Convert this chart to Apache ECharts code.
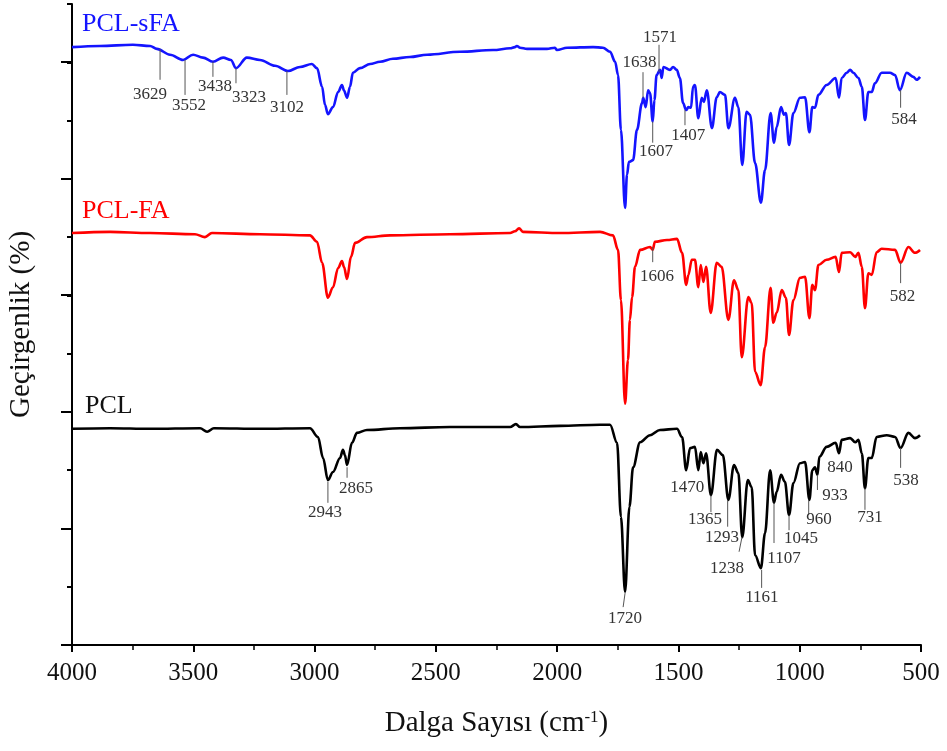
<!DOCTYPE html>
<html>
<head>
<meta charset="utf-8">
<script src="https://cdn.jsdelivr.net/npm/echarts@6/dist/echarts.min.js"></script>
<style>
  html, body { margin: 0; padding: 0; background: #fff; }
  #main { width: 947px; height: 751px; }
</style>
</head>
<body>
<div id="main"></div>
<script>
// FTIR spektrumları: [dalga sayısı (cm-1), geçirgenlik (ofsetli, keyfi birim)]
var pclSfa = [
  [4000, 102.6], [3885, 102.8], [3749, 103.0], [3678, 102.8], [3650, 102.3], [3596, 101.3],
  [3542, 100.4], [3501, 101.3], [3460, 100.8], [3419, 100.1], [3377, 100.8], [3345, 100.4],
  [3324, 99.0], [3279, 100.8], [3225, 100.4], [3163, 99.4], [3110, 98.5], [3060, 99.2],
  [3011, 99.7], [2990, 99.0], [2969, 95.8], [2957, 92.7], [2945, 91.1], [2924, 92.3],
  [2903, 94.9], [2887, 96.1], [2879, 95.2], [2866, 93.9], [2854, 95.8], [2842, 98.2],
  [2813, 99.0], [2771, 99.7], [2730, 100.1], [2677, 100.6], [2607, 100.9], [2536, 101.3],
  [2400, 101.8], [2264, 102.1], [2194, 102.4], [2174, 102.6], [2166, 102.8], [2153, 102.5],
  [2124, 102.3], [2042, 102.3], [2009, 102.5], [2001, 102.1], [1959, 102.5], [1852, 102.6],
  [1811, 102.5], [1782, 101.8], [1761, 100.1], [1749, 97.8], [1737, 88.4], [1720, 75.0],
  [1712, 80.7], [1704, 82.9], [1687, 83.2], [1671, 88.4], [1650, 93.0], [1645, 93.9],
  [1635, 92.3], [1625, 95.2], [1617, 94.7], [1606, 89.8], [1599, 93.5], [1590, 97.8],
  [1576, 98.7], [1569, 97.3], [1562, 99.2], [1535, 98.7], [1522, 99.2], [1507, 98.7],
  [1494, 97.3], [1481, 93.0], [1468, 91.8], [1459, 92.3], [1448, 92.2], [1440, 95.8],
  [1432, 96.1], [1418, 90.4], [1404, 93.9], [1395, 93.2], [1383, 95.2], [1362, 88.7],
  [1342, 94.0], [1329, 94.9], [1308, 94.4], [1294, 88.7], [1267, 93.9], [1253, 92.3],
  [1237, 82.4], [1219, 91.5], [1205, 91.0], [1184, 82.7], [1160, 75.9], [1143, 81.5],
  [1120, 91.3], [1106, 86.2], [1095, 88.9], [1077, 92.3], [1065, 91.0], [1057, 91.3],
  [1044, 85.8], [1026, 91.3], [999, 93.9], [978, 94.0], [960, 88.0], [948, 92.3],
  [937, 92.2], [923, 94.4], [889, 96.1], [852, 97.3], [838, 93.9], [827, 97.3],
  [806, 98.2], [792, 98.7], [779, 98.2], [758, 97.3], [744, 95.8], [731, 90.1],
  [717, 94.9], [703, 94.9], [690, 96.4], [662, 98.2], [628, 98.2], [607, 97.8],
  [587, 95.2], [559, 98.2], [532, 97.5], [518, 97.0], [504, 97.5]
];

var pclFa = [
  [4000, 70.7], [3843, 70.9], [3678, 70.7], [3493, 70.5], [3452, 70.0], [3423, 70.7],
  [3225, 70.5], [3019, 70.3], [2990, 69.2], [2969, 65.6], [2945, 59.6], [2924, 61.4],
  [2903, 64.7], [2887, 65.9], [2879, 64.9], [2866, 62.8], [2850, 66.6], [2833, 69.0],
  [2784, 70.0], [2689, 70.3], [2442, 70.5], [2194, 70.7], [2174, 71.0], [2157, 71.5],
  [2141, 70.9], [1988, 70.7], [1823, 70.9], [1770, 70.3], [1749, 67.8], [1737, 59.2],
  [1720, 41.4], [1708, 48.9], [1700, 55.8], [1691, 59.7], [1679, 64.9], [1658, 67.8],
  [1617, 68.3], [1606, 67.8], [1597, 69.2], [1547, 69.5], [1506, 69.7], [1485, 67.3],
  [1468, 61.8], [1459, 63.5], [1445, 66.1], [1432, 66.1], [1418, 61.4], [1408, 65.2],
  [1397, 62.3], [1386, 64.9], [1367, 57.0], [1342, 65.6], [1322, 64.9], [1294, 55.8],
  [1271, 62.6], [1253, 60.9], [1239, 49.4], [1212, 59.7], [1198, 58.7], [1184, 46.9],
  [1161, 44.6], [1143, 51.1], [1120, 61.3], [1109, 55.3], [1095, 57.0], [1074, 60.9],
  [1057, 59.6], [1044, 53.2], [1026, 59.2], [999, 63.0], [978, 63.2], [960, 56.1],
  [948, 61.8], [937, 60.9], [923, 65.2], [889, 66.1], [852, 66.6], [838, 64.0],
  [827, 67.3], [792, 67.4], [771, 66.6], [758, 67.3], [744, 64.9], [731, 57.8],
  [717, 63.8], [703, 63.5], [683, 67.4], [662, 68.0], [607, 67.8], [584, 65.6],
  [552, 68.3], [525, 67.3], [504, 67.8]
];

var pcl = [
  [4000, 37.1], [3843, 37.2], [3678, 37.1], [3472, 37.2], [3443, 36.6], [3415, 37.2],
  [3225, 37.1], [3019, 37.2], [2986, 35.7], [2965, 32.1], [2945, 28.3], [2924, 29.7],
  [2895, 32.1], [2883, 33.5], [2875, 32.6], [2866, 30.9], [2846, 34.7], [2825, 36.4],
  [2784, 36.9], [2648, 37.2], [2442, 37.4], [2194, 37.4], [2170, 37.9], [2153, 37.4],
  [1988, 37.6], [1823, 37.8], [1782, 37.8], [1753, 34.7], [1737, 22.0], [1720, 9.1],
  [1702, 23.7], [1687, 30.5], [1658, 34.8], [1617, 36.0], [1576, 36.9], [1506, 37.1],
  [1485, 35.7], [1468, 30.0], [1452, 33.8], [1432, 34.0], [1418, 30.0], [1408, 33.1],
  [1397, 31.2], [1386, 32.9], [1366, 25.7], [1341, 33.5], [1317, 32.6], [1294, 24.9],
  [1271, 30.9], [1253, 29.5], [1237, 18.5], [1214, 28.3], [1198, 27.1], [1184, 15.4],
  [1160, 13.2], [1143, 19.2], [1122, 30.0], [1106, 24.4], [1095, 26.3], [1077, 29.2],
  [1061, 28.0], [1044, 22.3], [1026, 27.8], [999, 31.2], [978, 31.4], [960, 24.9],
  [948, 30.0], [937, 30.5], [927, 29.2], [919, 32.3], [889, 34.0], [852, 34.7],
  [838, 32.9], [827, 35.2], [792, 35.5], [771, 34.8], [758, 35.2], [744, 32.9],
  [731, 26.9], [717, 32.1], [703, 32.1], [683, 35.7], [641, 36.0], [607, 35.7],
  [584, 33.8], [552, 36.4], [525, 35.5], [504, 36.0]
];

var seriesNames = ['PCL-sFA', 'PCL-FA', 'PCL'];
var seriesColors = ['#1414ff', '#ff0000', '#000000'];

// pik etiketleri: [metin, çizgi başı w, v, çizgi sonu w, v, etiket w, v]
var peakLabels = [
  ['3629', 3637, 102.3, 3637, 97.0, 3678, 94.4],
  ['3552', 3534, 100.4, 3534, 94.4, 3518, 92.5],
  ['3438', 3419, 100.1, 3419, 97.5, 3410, 95.8],
  ['3323', 3324, 99.0, 3324, 96.4, 3270, 94.0],
  ['3102', 3114, 98.5, 3114, 94.4, 3114, 92.3],
  ['1638', 1646, 93.9, 1646, 98.3, 1660, 99.9],
  ['1571', 1580, 98.3, 1580, 103.0, 1576, 104.3],
  ['1607', 1606, 89.8, 1606, 86.2, 1592, 84.7],
  ['1407', 1473, 91.8, 1473, 89.2, 1459, 87.5],
  ['584', 584, 95.2, 584, 92.2, 570, 90.2],
  ['1606', 1606, 68.3, 1606, 65.7, 1588, 63.2],
  ['582', 584, 65.6, 584, 62.1, 576, 59.8],
  ['2943', 2945, 28.0, 2945, 24.4, 2957, 22.7],
  ['2865', 2866, 30.5, 2866, 28.7, 2829, 26.9],
  ['1720', 1720, 8.9, 1728, 6.5, 1720, 4.6],
  ['1470', null, null, null, null, 1464, 27.1],
  ['1365', 1366, 25.7, 1366, 22.8, 1390, 21.5],
  ['1293', 1297, 24.9, 1297, 20.3, 1320, 18.5],
  ['1238', 1238, 18.5, 1250, 16.0, 1300, 13.2],
  ['1161', 1157, 12.9, 1157, 9.8, 1156, 8.2],
  ['1107', 1106, 24.4, 1106, 17.5, 1065, 14.8],
  ['1045', 1044, 22.3, 1044, 19.7, 995, 18.2],
  ['960', 963, 24.9, 963, 22.3, 920, 21.5],
  ['933', 927, 29.2, 927, 26.6, 855, 25.7],
  ['840', null, null, null, null, 834, 30.5],
  ['731', 731, 26.9, 731, 23.2, 710, 21.8],
  ['538', 584, 33.8, 584, 30.4, 562, 28.3]
];

var FONT = '"Liberation Serif", "Times New Roman", serif';

var myChart = echarts.init(document.getElementById('main'));

myChart.setOption({
  animation: false,
  backgroundColor: '#fff',
  grid: [
    { left: 72, right: 26, top: 4, bottom: 106, outerBoundsMode: 'none', containLabel: false },
    { left: 72, right: 26, top: 62, bottom: 106, outerBoundsMode: 'none', containLabel: false }
  ],
  xAxis: [{
    type: 'value',
    gridIndex: 0,
    inverse: true,
    min: 500,
    max: 4000,
    interval: 500,
    name: '{a|Dalga Sayısı (cm}{s|-1}{a|)}',
    nameLocation: 'middle',
    nameGap: 64,
    nameTextStyle: {
      rich: {
        a: { fontFamily: FONT, fontSize: 29, color: '#111' },
        s: { fontFamily: FONT, fontSize: 17, color: '#111', verticalAlign: 'top', padding: [0, 0, 12, 0] }
      }
    },
    axisLine: { lineStyle: { color: '#000', width: 2 } },
    axisTick: { length: 7, lineStyle: { color: '#000', width: 2 } },
    minorTick: { show: true, splitNumber: 2, length: 5, lineStyle: { color: '#000', width: 1.5 } },
    axisLabel: {
      fontFamily: FONT, fontSize: 25, color: '#111', margin: 16,
      formatter: function (v) { return String(v); }
    },
    splitLine: { show: false }
  }, {
    type: 'value',
    gridIndex: 1,
    inverse: true,
    min: 500,
    max: 4000,
    show: false
  }],
  yAxis: [{
    type: 'value',
    gridIndex: 0,
    min: 0,
    max: 110,
    interval: 10,
    name: 'Geçirgenlik (%)',
    nameLocation: 'middle',
    nameGap: 36,
    nameTextStyle: { fontFamily: FONT, fontSize: 29, color: '#111' },
    axisLine: { show: true, lineStyle: { color: '#000', width: 2 } },
    axisTick: { length: 5, lineStyle: { color: '#000', width: 2 } },
    axisLabel: { show: false },
    splitLine: { show: false }
  }, {
    type: 'value',
    gridIndex: 1,
    min: 0,
    max: 100,
    interval: 20,
    axisLine: { show: false },
    axisTick: { show: true, length: 11, lineStyle: { color: '#000', width: 2 } },
    axisLabel: { show: false },
    splitLine: { show: false }
  }],
  graphic: [
    { type: 'text', x: 82, y: 24, style: { text: seriesNames[0], fill: seriesColors[0], font: '26px ' + FONT, verticalAlign: 'middle' } },
    { type: 'text', x: 82, y: 211, style: { text: seriesNames[1], fill: seriesColors[1], font: '26px ' + FONT, verticalAlign: 'middle' } },
    { type: 'text', x: 85, y: 406, style: { text: seriesNames[2], fill: '#111', font: '26px ' + FONT, verticalAlign: 'middle' } }
  ],
  series: [
    { name: seriesNames[0], type: 'line', data: pclSfa, showSymbol: false, smooth: 0.35, smoothMonotone: 'x',
      lineStyle: { color: seriesColors[0], width: 2.6 } },
    { name: seriesNames[1], type: 'line', data: pclFa, showSymbol: false, smooth: 0.35, smoothMonotone: 'x',
      lineStyle: { color: seriesColors[1], width: 2.6 } },
    { name: seriesNames[2], type: 'line', data: pcl, showSymbol: false, smooth: 0.35, smoothMonotone: 'x',
      lineStyle: { color: seriesColors[2], width: 2.6 } },
    {
      type: 'custom',
      silent: true,
      z: 5,
      data: peakLabels.map(function (a) { return [a[5], a[6]]; }),
      renderItem: function (params, api) {
        var a = peakLabels[params.dataIndex];
        var children = [];
        if (a[1] != null) {
          var p1 = api.coord([a[1], a[2]]);
          var p2 = api.coord([a[3], a[4]]);
          children.push({ type: 'line', shape: { x1: p1[0], y1: p1[1], x2: p2[0], y2: p2[1] },
            style: { stroke: '#555', lineWidth: 1 } });
        }
        var pl = api.coord([a[5], a[6]]);
        children.push({ type: 'text', x: pl[0], y: pl[1],
          style: { text: a[0], fill: '#333', font: '17px ' + FONT, align: 'center', verticalAlign: 'middle' } });
        return { type: 'group', children: children };
      }
    }
  ]
});
</script>
</body>
</html>
